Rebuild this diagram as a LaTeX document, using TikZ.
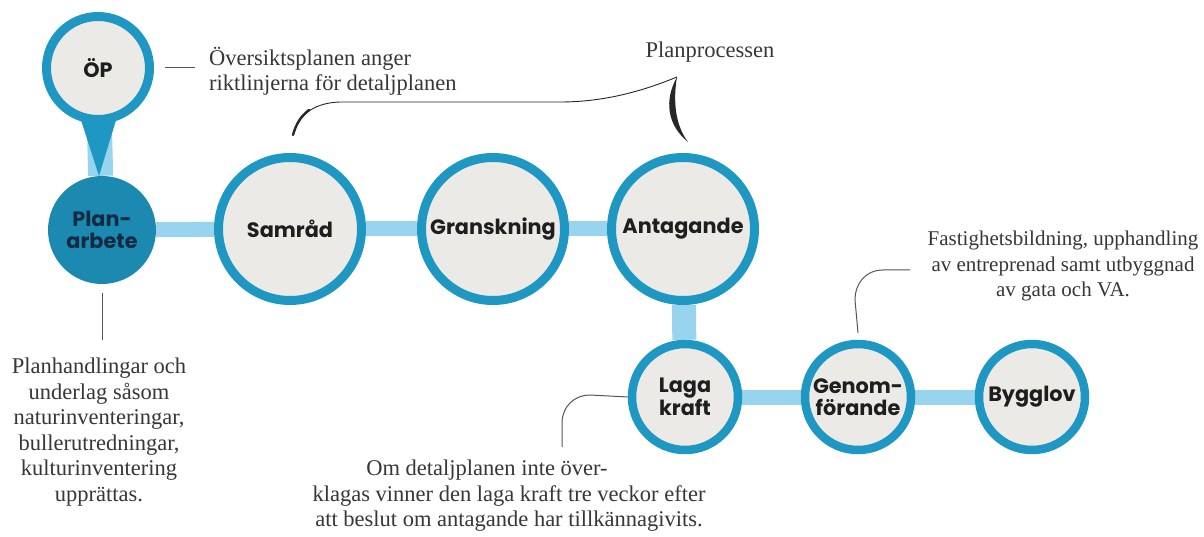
\documentclass[tikz,border=0pt]{standalone}
\usepackage{fontspec}
\setmainfont{Liberation Serif}
\newfontfamily\circfont{Poppins}
\usetikzlibrary{backgrounds}
\definecolor{ringc}{RGB}{31,151,195}
\definecolor{planc}{RGB}{27,137,176}
\definecolor{barc}{RGB}{152,212,238}
\definecolor{fillc}{RGB}{236,234,231}
\definecolor{txtc}{RGB}{30,30,30}
\definecolor{plantxt}{RGB}{18,42,66}
\definecolor{notec}{RGB}{55,55,55}
\definecolor{linec}{RGB}{85,85,85}
\tikzset{
  stage/.style={circle, draw=ringc, fill=fillc, line width=9pt, inner sep=0pt, align=center,
    font=\circfont\bfseries\fontsize{20.8}{21.5}\selectfont, text=txtc},
  bigstage/.style={stage, minimum size=143pt},
  smallstage/.style={stage, line width=8.5pt, minimum size=106pt},
  bar/.style={draw=barc, line width=15pt},
  note/.style={font=\fontsize{22.5}{25.5}\selectfont, text=notec, inner sep=0pt},
  pointer/.style={draw=linec, line width=1pt},
  bracestroke/.style={draw=black!85, line cap=round}
}
\begin{document}
\begin{tikzpicture}[x=1pt,y=-1pt]
\useasboundingbox (0,0) rectangle (1204,537);
% nodes
\node[stage, minimum size=103pt] (op) at (98,68) {ÖP};
\node[circle, fill=planc, minimum size=108pt, inner sep=0pt, align=center,
  font=\circfont\bfseries\fontsize{20.8}{21.5}\selectfont, text=plantxt] (plan) at (102,230) {Plan-\\arbete};
\node[bigstage] (samrad) at (290,229) {Samråd};
\node[bigstage] (gransk) at (493,229) {Granskning};
\node[bigstage] (antag) at (683,229) {Antagande};
\node[smallstage] (laga) at (685,397) {Laga\\kraft};
\node[smallstage] (genom) at (858,397) {Genom-\\förande};
\node[smallstage] (bygg) at (1032,397) {Bygglov};
% bars
\begin{scope}[on background layer]
\fill[white] (0,0) rectangle (1204,537);
\draw[bar, line width=25pt] (op) -- (plan);
\draw[bar] (plan) -- (samrad);
\draw[bar] (samrad) -- (gransk);
\draw[bar] (gransk) -- (antag);
\draw[bar, line width=24pt] (antag) -- (laga);
\draw[bar] (laga) -- (genom);
\draw[bar] (genom) -- (bygg);
\end{scope}
% teardrop
\fill[ringc] (80,117) -- (99,176) -- (117,117) -- cycle;
% notes
\node[note, anchor=north west, align=left] (opnote) at (209,47) {Översiktsplanen anger\\riktlinjerna för detaljplanen};
\draw[pointer] ([xshift=11pt]op.east) -- ([xshift=41pt]op.east);
\node[note, anchor=north] (procnote) at (710,42) {Planprocessen};
\node[note, anchor=north, align=center] (plannote) at (99,358) {Planhandlingar och\\underlag såsom\\naturinventeringar,\\bullerutredningar,\\kulturinventering\\upprättas.};
\draw[pointer] ([yshift=-9pt]plan.south) -- ([yshift=-56pt]plan.south);
\node[note, anchor=north, align=center] (laganote) at (509,460) {Om detaljplanen inte över-\hspace*{44pt}\\klagas vinner den laga kraft tre veckor efter\\att beslut om antagande har tillkännagivits.};
\coordinate (lagaA) at (562,447);
\draw[pointer] (laga.west) -- (590,395) .. controls (574,395) and (562,407) .. (562,423) -- (lagaA);
\node[note, anchor=north, align=center, font=\fontsize{21}{25.5}\selectfont] (genomnote) at (1063,231) {Fastighetsbildning, upphandling\\av entreprenad samt utbyggnad\\av gata och VA.};
\coordinate (genomA) at (910,270);
\draw[pointer] ([yshift=7pt]genom.north) -- (855,300) .. controls (855,283) and (866,270) .. (883,270) -- (genomA);
% brace
\coordinate (bl) at (293,135);
\coordinate (bt) at (677,77);
\coordinate (br) at (688,142);
\draw[bracestroke, line width=0.9pt] (bl) .. controls (298,118) and (310,103) .. (340,102) -- (560,102) .. controls (610,102) and (650,88) .. (bt);
\draw[bracestroke, line width=2.4pt] (bl) .. controls (296,124) and (301,116) .. (309,110);
\fill[black!85] (bt) .. controls (664,100) and (667,125) .. (br) .. controls (675,125) and (673,100) .. (bt) -- cycle;
\end{tikzpicture}
\end{document}
